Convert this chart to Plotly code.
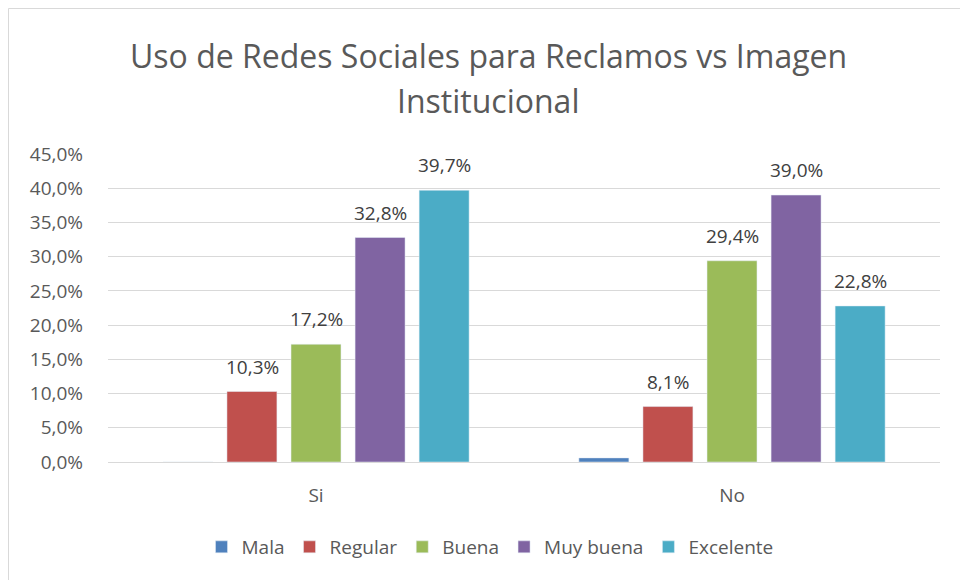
import plotly.graph_objects as go

categories = ["Si", "No"]
series_names = ["Mala", "Regular", "Buena", "Muy buena", "Excelente"]
values = {
    "Mala": [0.0, 0.6],
    "Regular": [10.3, 8.1],
    "Buena": [17.2, 29.4],
    "Muy buena": [32.8, 39.0],
    "Excelente": [39.7, 22.8],
}
show_labels = {
    "Mala": [False, False],
    "Regular": [True, True],
    "Buena": [True, True],
    "Muy buena": [True, True],
    "Excelente": [True, True],
}
colors = ["#4f81bd", "#c0504d", "#9bbb59", "#8064a2", "#4bacc6"]
tick_vals = [0, 5, 10, 15, 20, 25, 30, 35, 40, 45]
tick_text = ["0,0%", "5,0%", "10,0%", "15,0%", "20,0%", "25,0%", "30,0%", "35,0%", "40,0%", "45,0%"]
title_lines = ["Uso de Redes Sociales para Reclamos vs Imagen", "Institucional"]

FONT = "Open Sans, Liberation Sans, sans-serif"

W, H = 960, 580
ml, mr, mt, mb = 108, 20, 154, 118
pw, ph = W - ml - mr, H - mt - mb

def px_to_paper_x(px):
    return (px - ml) / pw

def px_to_paper_y(py):
    return (H - mb - py) / ph

fig = go.Figure()
annotations = []
slot_px = 64
for i, (name, col) in enumerate(zip(series_names, colors)):
    vals = values[name]
    fig.add_trace(go.Bar(
        x=categories, y=vals, name=name, marker_color=col,
    ))
    for cat, v, s in zip(categories, vals, show_labels[name]):
        if s:
            annotations.append(dict(
                x=cat, y=v, xref="x", yref="y",
                text=f"{v:.1f}%".replace(".", ","), showarrow=False,
                xshift=(i - 2) * slot_px, yshift=10, yanchor="bottom",
                font=dict(size=19, color="#404040", family=FONT),
            ))

for j, line in enumerate(title_lines):
    annotations.append(dict(
        x=px_to_paper_x(488), y=px_to_paper_y(55 + 45 * j), xref="paper", yref="paper",
        text=line, showarrow=False, xanchor="center", yanchor="middle",
        font=dict(size=32, color="#595959", family=FONT),
    ))

fig.update_layout(
    width=W, height=H,
    margin=dict(l=ml, r=mr, t=mt, b=mb),
    paper_bgcolor="white", plot_bgcolor="white",
    barmode="group", bargap=0.23, bargroupgap=0.22,
    font=dict(family=FONT, color="#595959"),
    yaxis=dict(
        range=[0, 45], tickvals=tick_vals, ticktext=tick_text,
        showgrid=True, gridcolor="#d9d9d9", gridwidth=1,
        zeroline=False, showline=False,
        tickfont=dict(size=19, color="#595959", family=FONT),
        ticks="", ticklabelstandoff=24,
    ),
    xaxis=dict(
        showline=True, linecolor="#d9d9d9", linewidth=1,
        tickfont=dict(size=19, color="#595959", family=FONT),
        ticks="", ticklabelstandoff=16,
    ),
    legend=dict(
        orientation="h", x=px_to_paper_x(490), xanchor="center",
        y=px_to_paper_y(547), yanchor="middle",
        font=dict(size=19, color="#595959", family=FONT),
        itemwidth=30, traceorder="normal",
    ),
    annotations=annotations,
    shapes=[dict(
        type="rect", xref="paper", yref="paper",
        x0=px_to_paper_x(8.5), x1=px_to_paper_x(970),
        y0=px_to_paper_y(590), y1=px_to_paper_y(8.5),
        line=dict(color="#d9d9d9", width=1), fillcolor="rgba(0,0,0,0)", layer="below",
    )],
)

fig.write_html(
    "out.html",
    config={"displayModeBar": False},
    post_script="document.body.style.margin='0';document.body.style.overflow='hidden';",
)
